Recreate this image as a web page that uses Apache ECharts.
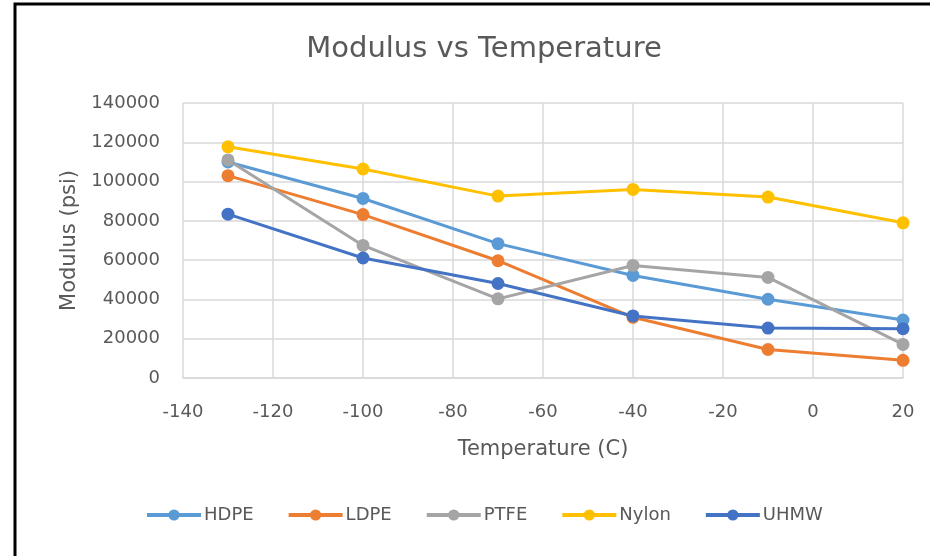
<!DOCTYPE html>
<html>
<head>
<meta charset="utf-8">
<script src="https://cdn.jsdelivr.net/npm/echarts@6/dist/echarts.min.js"></script>
<style>
  html, body { margin: 0; padding: 0; background: #fff; }
  #chart { width: 930px; height: 556px; }
</style>
</head>
<body>
<div id="chart"></div>
<script>
// temperatures (C)
const temps = [-130, -100, -70, -40, -10, 20];
// modulus (psi) per material
const hdpe  = [110000, 91400, 68400, 52200, 40100, 29500];
const ldpe  = [103000, 83200, 59700, 30900, 14500, 9000];
const ptfe  = [111000, 67500, 40300, 57300, 51200, 17100];
const nylon = [117700, 106400, 92600, 96000, 92100, 79000];
const uhmw  = [83400, 61100, 48100, 31600, 25400, 25100];

const names = ['HDPE', 'LDPE', 'PTFE', 'Nylon', 'UHMW'];
const colors = ['#5B9BD5', '#ED7D31', '#A5A5A5', '#FFC000', '#4472C4'];
const values = [hdpe, ldpe, ptfe, nylon, uhmw];

const textColor = '#595959';
const font = '"DejaVu Sans", sans-serif';

const myChart = echarts.init(document.getElementById('chart'));

let option = {
    backgroundColor: '#fff',
    animation: false,
    textStyle: { fontFamily: font },
    title: {
        text: 'Modulus vs Temperature',
        left: 479,
        textAlign: 'center',
        top: 30,
        textStyle: { color: textColor, fontSize: 29, fontWeight: 'normal', fontFamily: font }
    },
    graphic: [{
        type: 'rect',
        shape: { x: 15, y: 4, width: 940, height: 580 },
        style: { fill: 'none', stroke: '#000', lineWidth: 3 },
        silent: true
    }],
    legend: {
        bottom: 27,
        left: 140,
        itemWidth: 54,
        itemHeight: 14,
        itemGap: 33,
        lineStyle: { width: 4 },
        textStyle: { color: textColor, fontSize: 18, fontFamily: font, padding: [0, 0, 0, -2] },
        data: names
    },
    grid: {
        left: 183,
        right: 27,
        top: 103,
        bottom: 178
    },
    xAxis: {
        type: 'value',
        min: -140,
        max: 20,
        interval: 20,
        name: 'Temperature (C)',
        nameLocation: 'middle',
        nameGap: 61,
        nameTextStyle: { color: textColor, fontSize: 21, fontFamily: font },
        axisLine: { show: true, onZero: false, lineStyle: { color: '#D9D9D9', width: 1.5 } },
        axisTick: { show: false },
        axisLabel: { color: textColor, fontSize: 18, margin: 25, fontFamily: font },
        splitLine: { show: true, lineStyle: { color: '#D9D9D9', width: 1.5 } }
    },
    yAxis: {
        type: 'value',
        min: 0,
        max: 140000,
        interval: 20000,
        name: 'Modulus (psi)',
        nameLocation: 'middle',
        nameGap: 103,
        nameTextStyle: { color: textColor, fontSize: 21, fontFamily: font },
        axisLine: { show: false },
        axisTick: { show: false },
        axisLabel: { color: textColor, fontSize: 18, margin: 23, fontFamily: font, formatter: (v) => String(v) },
        splitLine: { show: true, lineStyle: { color: '#D9D9D9', width: 1.5 } }
    },
    series: names.map((name, i) => ({
        name: name,
        type: 'line',
        data: temps.map((t, j) => [t, values[i][j]]),
        symbol: 'circle',
        symbolSize: 13,
        itemStyle: { color: colors[i] },
        lineStyle: { color: colors[i], width: 3 }
    }))
};

myChart.setOption(option);
</script>
</body>
</html>
